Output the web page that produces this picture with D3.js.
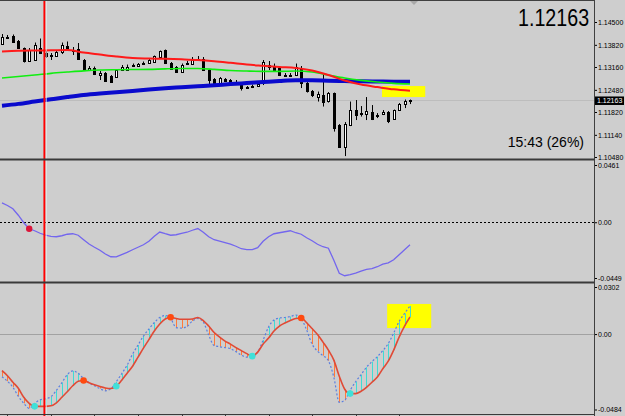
<!DOCTYPE html>
<html>
<head>
<meta charset="utf-8">
<script src="https://cdn.jsdelivr.net/npm/d3@7"></script>
<style>
  body { margin: 0; background: #cecece; }
  svg { display: block; }
</style>
</head>
<body>
<svg></svg>
<script>
// candles (bar 0 = left edge)
let barOpen = [1.13844,1.14038,1.14083,1.13934,1.13725,1.13338,1.13368,1.13725,1.13591,1.13517,
  1.13487,1.13606,1.13785,1.13680,1.13695,1.13368,1.13055,1.13129,1.12921,1.12995,
  1.12891,1.12876,1.13055,1.13099,1.13189,1.13189,1.13248,1.13278,1.13323,1.13472,
  1.13666,1.13293,1.13159,1.13025,1.13263,1.13278,1.13383,1.13397,1.13070,1.12801,
  1.12682,1.12801,1.12786,1.12727,1.12623,1.12563,1.12563,1.12593,1.12682,1.13174,
  1.13189,1.13129,1.12935,1.12921,1.12921,1.13129,1.12682,1.12444,1.12280,1.12340,
  1.12131,1.12384,1.11431,1.10790,1.11431,1.11878,1.11788,1.11788,1.11833,1.11729,
  1.11758,1.11818,1.11624,1.11878,1.12056,1.12131];
let barHigh = [1.14142,1.14113,1.14128,1.13964,1.13740,1.13725,1.13889,1.14008,1.13666,1.13576,
  1.13636,1.13889,1.13919,1.13755,1.13874,1.13397,1.13189,1.13174,1.13040,1.13010,
  1.12921,1.13099,1.13219,1.13233,1.13263,1.13278,1.13323,1.13397,1.13502,1.13651,
  1.13680,1.13308,1.13189,1.13263,1.13338,1.13457,1.13487,1.13457,1.13099,1.12831,
  1.12861,1.12831,1.12801,1.12772,1.12652,1.12593,1.12638,1.12682,1.13368,1.13338,
  1.13263,1.13159,1.12980,1.12980,1.13263,1.13189,1.12712,1.12474,1.12429,1.12980,
  1.12414,1.12399,1.11460,1.11520,1.12131,1.12176,1.11997,1.12265,1.12027,1.11788,
  1.11878,1.11848,1.11893,1.12086,1.12191,1.12191];
let barLow = [1.13815,1.13993,1.13904,1.13710,1.13293,1.13308,1.13338,1.13546,1.13427,1.13368,
  1.13457,1.13546,1.13666,1.13517,1.13368,1.13040,1.13040,1.12921,1.12772,1.12727,
  1.12712,1.12861,1.13040,1.13070,1.13159,1.13174,1.13219,1.13263,1.13308,1.13457,
  1.13248,1.13099,1.13010,1.13010,1.13219,1.13263,1.13353,1.13055,1.12652,1.12652,
  1.12667,1.12712,1.12682,1.12682,1.12459,1.12518,1.12533,1.12578,1.12623,1.13070,
  1.13025,1.12891,1.12891,1.12861,1.12891,1.12533,1.12399,1.12265,1.12131,1.11982,
  1.12101,1.11237,1.10775,1.10507,1.11401,1.11580,1.11684,1.11580,1.11580,1.11639,
  1.11729,1.11490,1.11609,1.11863,1.11937,1.12056];
let barClose = [1.14053,1.14068,1.13913,1.13725,1.13338,1.13666,1.13815,1.13576,1.13487,1.13531,
  1.13606,1.13815,1.13695,1.13666,1.13383,1.13070,1.13129,1.12950,1.12995,1.12742,
  1.12727,1.13070,1.13159,1.13174,1.13219,1.13248,1.13278,1.13368,1.13487,1.13636,
  1.13278,1.13129,1.13025,1.13233,1.13278,1.13383,1.13397,1.13070,1.12772,1.12682,
  1.12846,1.12727,1.12712,1.12712,1.12533,1.12548,1.12593,1.12652,1.13308,1.13219,
  1.13070,1.12921,1.12921,1.12935,1.13159,1.12682,1.12429,1.12325,1.12369,1.12131,
  1.12384,1.11341,1.10790,1.11475,1.11878,1.11729,1.11773,1.11863,1.11639,1.11699,
  1.11818,1.11550,1.11878,1.12056,1.12146,1.12163];

// moving averages, read every third bar
let maBars = [0,3,6,9,12,15,18,21,24,27,30,33,36,39,42,45,48,51,54,57,60,63,66,69,72,75];
let maRed = [1.13621,1.13642,1.13651,1.13657,1.13666,1.13591,1.13531,1.13472,1.13427,1.13412,
  1.13403,1.13388,1.13368,1.13332,1.13284,1.13233,1.13195,1.13159,1.13129,1.13055,
  1.12921,1.12757,1.12638,1.12563,1.12494,1.12453];
let maGreen = [1.12831,1.12876,1.12921,1.12971,1.13010,1.13046,1.13070,1.13079,1.13085,1.13090,
  1.13105,1.13114,1.13114,1.13090,1.13055,1.13040,1.13031,1.13031,1.13040,1.13010,
  1.12921,1.12831,1.12763,1.12712,1.12673,1.12652];
let maBlue = [1.12006,1.12062,1.12131,1.12199,1.12265,1.12325,1.12369,1.12405,1.12444,1.12489,
  1.12527,1.12557,1.12587,1.12617,1.12652,1.12682,1.12712,1.12742,1.12763,1.12763,
  1.12751,1.12742,1.12733,1.12727,1.12721,1.12721];

// middle pane oscillator, one value per bar
let oscValues = [0.01554,0.01352,0.01087,0.00564,-0.00040,-0.00523,-0.00684,-0.00886,-0.01030,-0.01143,
  -0.01167,-0.01087,-0.00966,-0.00926,-0.01047,-0.01409,-0.01755,-0.02013,-0.02254,-0.02560,
  -0.02777,-0.02785,-0.02600,-0.02431,-0.02214,-0.02013,-0.01811,-0.01530,-0.01127,-0.00789,
  -0.00926,-0.01047,-0.01006,-0.00902,-0.00805,-0.00644,-0.00507,-0.00805,-0.01167,-0.01409,
  -0.01530,-0.01650,-0.01771,-0.01932,-0.02133,-0.02198,-0.02198,-0.02053,-0.01530,-0.01167,
  -0.00926,-0.00845,-0.00765,-0.00684,-0.00845,-0.00966,-0.01248,-0.01489,-0.01771,-0.01972,
  -0.02093,-0.03059,-0.04106,-0.04307,-0.04226,-0.04106,-0.03945,-0.03800,-0.03743,-0.03582,
  -0.03381,-0.03276,-0.03019,-0.02616,-0.02214,-0.01811];
let oscDotBars = [5];

// bottom pane: solid red line and dotted signal line
let histMain = [-0.02351,-0.02673,-0.03091,-0.03478,-0.04057,-0.04444,-0.04637,-0.04637,-0.04637,-0.04605,
  -0.04411,-0.04057,-0.03703,-0.03317,-0.03027,-0.02975,-0.03123,-0.03252,-0.03368,-0.03458,
  -0.03497,-0.03349,-0.02962,-0.02512,-0.02061,-0.01481,-0.00902,-0.00354,0.00193,0.00644,
  0.00966,0.01075,0.00998,0.00947,0.00947,0.00966,0.01063,0.00869,0.00515,0.00097,
  -0.00193,-0.00451,-0.00644,-0.00869,-0.01063,-0.01256,-0.01417,-0.01159,-0.00644,-0.00258,
  0.00193,0.00515,0.00708,0.00869,0.00998,0.01030,0.00728,0.00354,-0.00032,-0.00515,
  -0.01030,-0.01674,-0.02705,-0.03542,-0.03819,-0.03819,-0.03671,-0.03413,-0.03091,-0.02750,
  -0.02222,-0.01739,-0.01030,-0.00193,0.00515,0.01095];
let histSignal = [-0.02737,-0.03027,-0.03413,-0.03993,-0.04444,-0.04766,-0.04444,-0.04218,-0.04154,-0.04025,
  -0.03606,-0.03123,-0.02608,-0.02363,-0.02512,-0.02866,-0.03123,-0.03317,-0.03497,-0.03639,
  -0.03510,-0.03059,-0.02544,-0.01996,-0.01288,-0.00708,-0.00129,0.00322,0.00741,0.01063,
  0.01191,0.00998,0.00419,0.00386,0.00483,0.00837,0.00998,0.00773,-0.00064,-0.00741,
  -0.00811,-0.00869,-0.00934,-0.01127,-0.01352,-0.01481,-0.01417,-0.01159,-0.00386,0.00451,
  0.00902,0.01030,0.01063,0.01127,0.01224,0.00998,0.00258,-0.00644,-0.01095,-0.01385,
  -0.01707,-0.02769,-0.04379,-0.04250,-0.03606,-0.03059,-0.02608,-0.02125,-0.01771,-0.01449,
  -0.01063,-0.00612,0.00064,0.00805,0.01320,0.01803];
let histPeakBars = [15, 31, 55];
let histTroughBars = [6, 21, 46, 64];

// axis ticks
let priceTicks = [1.14500, 1.13820, 1.13160, 1.12480, 1.11820, 1.11140, 1.10480];
let oscTicks = [0.0461, 0, -0.0449];
let oscTickLabels = ['0.0461', '0.00', '-0.0449'];
let histTicks = [0.0302, 0, -0.0484];
let histTickLabels = ['0.0302', '0.00', '-0.0484'];
let timeTickBars = [1, 9, 17, 25, 33, 41, 49, 57, 65, 73];

// objects on the chart
let markerBar = 7.8;
let boxMain = {bar0: 69.85, bar1: 77.8, p0: 1.12593, p1: 1.12265};
let boxHist = {bar0: 70.8, bar1: 78.9, v0: 0.01932, v1: 0.00386};
let timerText = '15:43 (26%)';

let width = 625;
let height = 416;
let plotRight = 594;
let font = 'Liberation Sans, Arial, sans-serif';

let svg = d3.select('svg')
    .attr('width', width)
    .attr('height', height);

svg.append('rect').attr('width', width).attr('height', height).attr('fill', '#cecece');

// scales
let x = d3.scaleLinear().domain([0, 75]).range([2, 410]);
let yMain = d3.scaleLinear().domain([1.10480, 1.14500]).range([157, 22]);
let yOsc = d3.scaleLinear().domain([-0.0449, 0.0461]).range([278, 165]);
let yHist = d3.scaleLinear().domain([-0.0484, 0.0302]).range([409.5, 287]);

// clip each pane
let defs = svg.append('defs');
function clip(id, top, bottom) {
    defs.append('clipPath').attr('id', id)
        .append('rect').attr('x', 0).attr('y', top).attr('width', plotRight).attr('height', bottom - top);
}
clip('clipMain', 1, 158);
clip('clipOsc', 161, 282);
clip('clipHist', 284, 414);

let gMain = svg.append('g').attr('clip-path', 'url(#clipMain)');
let gOsc = svg.append('g').attr('clip-path', 'url(#clipOsc)');
let gHist = svg.append('g').attr('clip-path', 'url(#clipHist)');

// yellow boxes sit behind everything
gMain.append('rect')
    .attr('x', x(boxMain.bar0)).attr('width', x(boxMain.bar1) - x(boxMain.bar0))
    .attr('y', yMain(boxMain.p0)).attr('height', yMain(boxMain.p1) - yMain(boxMain.p0))
    .attr('fill', '#ffff00');
gHist.append('rect')
    .attr('x', x(boxHist.bar0)).attr('width', x(boxHist.bar1) - x(boxHist.bar0))
    .attr('y', yHist(boxHist.v0)).attr('height', yHist(boxHist.v1) - yHist(boxHist.v0))
    .attr('fill', '#ffff00');

// bid line
let last = barClose[barClose.length - 1];
gMain.append('line')
    .attr('x1', 0).attr('x2', plotRight)
    .attr('y1', Math.round(yMain(last)) + 0.5).attr('y2', Math.round(yMain(last)) + 0.5)
    .attr('stroke', '#bdbdbd');

// zero lines
gOsc.append('line')
    .attr('x1', 0).attr('x2', plotRight)
    .attr('y1', Math.round(yOsc(0)) + 0.5).attr('y2', Math.round(yOsc(0)) + 0.5)
    .attr('stroke', '#000').attr('stroke-dasharray', '2,2');
gHist.append('line')
    .attr('x1', 0).attr('x2', plotRight)
    .attr('y1', Math.round(yHist(0)) + 0.5).attr('y2', Math.round(yHist(0)) + 0.5)
    .attr('stroke', '#a2a2a2');

// red vertical marker through all panes
let mx = x(markerBar);
svg.append('line').attr('x1', mx).attr('x2', mx).attr('y1', 0).attr('y2', height)
    .attr('stroke', '#ff0000').attr('stroke-width', 2);
svg.append('line').attr('x1', mx + 1.8).attr('x2', mx + 1.8).attr('y1', 0).attr('y2', height)
    .attr('stroke', '#e4f4f4').attr('stroke-width', 0.8);

// candles
let bars = barClose.map(function(c, i) {
    return {i: i, o: barOpen[i], h: barHigh[i], l: barLow[i], c: c};
});
function cx(i) { return Math.round(x(i)) + 0.5; }

gMain.selectAll('line.wick').data(bars).join('line')
    .attr('class', 'wick')
    .attr('x1', d => cx(d.i)).attr('x2', d => cx(d.i))
    .attr('y1', d => yMain(d.h)).attr('y2', d => yMain(d.l))
    .attr('stroke', '#000');

gMain.selectAll('rect.body').data(bars).join('rect')
    .attr('class', 'body')
    .attr('x', d => cx(d.i) - 1)
    .attr('width', 2)
    .attr('y', d => Math.round(yMain(Math.max(d.o, d.c))) + 0.5)
    .attr('height', d => Math.max(1, Math.round(Math.abs(yMain(d.o) - yMain(d.c)))))
    .attr('fill', d => d.c >= d.o ? '#ffffff' : '#000000')
    .attr('stroke', '#000');

// moving averages
let maLine = d3.line().x(d => x(d[0])).y(d => yMain(d[1])).curve(d3.curveMonotoneX);
function drawMa(values, color, w) {
    gMain.append('path')
        .datum(maBars.map((b, k) => [b, values[k]]))
        .attr('d', maLine)
        .attr('fill', 'none').attr('stroke', color).attr('stroke-width', w);
}
drawMa(maBlue, '#0a0acd', 4);
drawMa(maGreen, '#10ee10', 1.6);
drawMa(maRed, '#ff1a1a', 2);

// oscillator pane
let oscLine = d3.line().x((d, i) => x(i)).y(d => yOsc(d));
gOsc.append('path').datum(oscValues).attr('d', oscLine)
    .attr('fill', 'none').attr('stroke', '#7366ee').attr('stroke-width', 1.3);
gOsc.selectAll('circle').data(oscDotBars).join('circle')
    .attr('cx', d => x(d)).attr('cy', d => yOsc(oscValues[d])).attr('r', 3.2)
    .attr('fill', '#dc1438');

// bottom pane: sticks between the two lines
gHist.selectAll('line.stick').data(histMain).join('line')
    .attr('class', 'stick')
    .attr('x1', (d, i) => cx(i)).attr('x2', (d, i) => cx(i))
    .attr('y1', d => yHist(d)).attr('y2', (d, i) => yHist(histSignal[i]))
    .attr('stroke', (d, i) => histSignal[i] > d ? '#3fdcd4' : '#ff7a3a')
    .attr('stroke-width', 1);

let histLine = d3.line().x((d, i) => x(i)).y(d => yHist(d)).curve(d3.curveMonotoneX);
gHist.append('path').datum(histSignal).attr('d', histLine)
    .attr('fill', 'none').attr('stroke', '#5b7fe0').attr('stroke-width', 1.2)
    .attr('stroke-dasharray', '2,2');
gHist.append('path').datum(histMain).attr('d', histLine)
    .attr('fill', 'none').attr('stroke', '#e04a36').attr('stroke-width', 1.6);

gHist.selectAll('circle.peak').data(histPeakBars).join('circle')
    .attr('class', 'peak')
    .attr('cx', d => x(d)).attr('cy', d => yHist(histMain[d])).attr('r', 3.3)
    .attr('fill', '#ff4a10');
gHist.selectAll('circle.trough').data(histTroughBars).join('circle')
    .attr('class', 'trough')
    .attr('cx', d => x(d)).attr('cy', d => yHist(histMain[d])).attr('r', 3.3)
    .attr('fill', '#40e0d8');

// pane borders
function hline(y, w, color) {
    svg.append('line').attr('x1', 0).attr('x2', plotRight).attr('y1', y).attr('y2', y)
        .attr('stroke', color).attr('stroke-width', w);
}
hline(0.5, 1, '#404040');
hline(159.5, 2, '#3a3a3a');
hline(282.5, 2, '#3a3a3a');
hline(414.5, 1, '#3a3a3a');

// time ticks under the bottom pane
svg.selectAll('line.tt').data(timeTickBars).join('line')
    .attr('class', 'tt')
    .attr('x1', d => cx(d)).attr('x2', d => cx(d))
    .attr('y1', 414).attr('y2', 417)
    .attr('stroke', '#3a3a3a');

// shift marker at top
svg.append('path').attr('d', 'M410,1 L418,1 L414,5 Z').attr('fill', '#a8a8a8');

// right axes
function rightAxis(scale, ticks, labels) {
    let axis = d3.axisRight(scale).tickValues(ticks).tickSize(3).tickPadding(1)
        .tickFormat(labels ? (d, i) => labels[i] : d3.format('.5f'));
    let g = svg.append('g').attr('transform', `translate(${plotRight}, 0)`).call(axis);
    g.select('.domain').remove();
    g.attr('font-family', font).attr('font-size', 7);
    g.selectAll('line').attr('stroke', '#000');
    g.selectAll('text').attr('fill', '#000');
    return g;
}
rightAxis(yMain, priceTicks);
rightAxis(yOsc, oscTicks, oscTickLabels);
rightAxis(yHist, histTicks, histTickLabels);

svg.append('line').attr('x1', plotRight + 0.5).attr('x2', plotRight + 0.5)
    .attr('y1', 0).attr('y2', height).attr('stroke', '#404040');

// current price tag on axis
let yLast = yMain(last);
svg.append('rect').attr('x', plotRight + 1).attr('y', yLast - 4).attr('width', 29).attr('height', 8.5)
    .attr('fill', '#000');
svg.append('text').attr('x', plotRight + 3).attr('y', yLast).attr('dy', '0.35em')
    .attr('font-family', font).attr('font-size', 7).attr('fill', '#fff')
    .text(d3.format('.5f')(last));

// big price (narrowed by a horizontal scale) and bar timer
svg.append('text')
    .attr('transform', 'translate(518, 26) scale(0.82, 1)')
    .attr('font-family', font)
    .attr('font-size', 24).attr('fill', '#000')
    .text(d3.format('.5f')(last));

svg.append('text')
    .attr('x', 584).attr('y', 147).attr('text-anchor', 'end')
    .attr('font-family', font).attr('font-size', 14).attr('fill', '#000')
    .text(timerText);
</script>
</body>
</html>
